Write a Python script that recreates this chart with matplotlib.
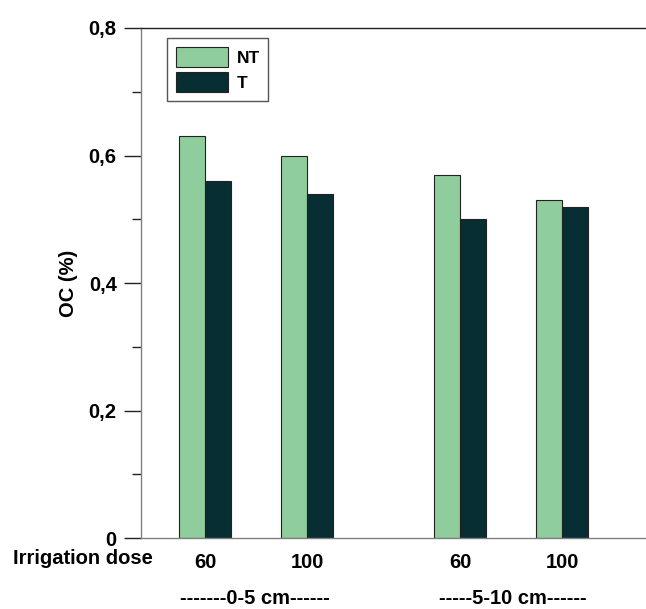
import numpy as np
import matplotlib.pyplot as plt

plt.rcParams['font.family'] = ['Liberation Sans', 'DejaVu Sans']
plt.rcParams['font.weight'] = 'bold'

# datos
doses = ['60', '100', '60', '100']
positions = [1, 2, 3.5, 4.5]
nt = [0.63, 0.60, 0.57, 0.53]
t = [0.56, 0.54, 0.50, 0.52]
depths = ['-------0-5 cm------', '-----5-10 cm------']
yticks = [0, 0.2, 0.4, 0.6, 0.8]
ylabels = ['0', '0,2', '0,4', '0,6', '0,8']

color_nt = '#90CD9C'
color_t = '#062E33'
fs = 14.5

W, H = 646, 609
fig = plt.figure(figsize=(W / 100, H / 100), dpi=100)
ax = fig.add_axes([141 / W, (H - 538) / H, (W - 141) / W, (538 - 28) / H])

width = 0.255
x = np.array(positions)
ax.bar(x - width / 2, nt, width, color=color_nt, edgecolor='#222222', linewidth=0.8, label='NT')
ax.bar(x + width / 2, t, width, color=color_t, edgecolor='#222222', linewidth=0.8, label='T')

ax.set_xlim(0.373, 5.32)
ax.set_ylim(0, 0.8)

ax.set_yticks(yticks)
ax.set_yticklabels(ylabels, fontsize=fs, fontweight='bold')
ax.set_yticks([0.1, 0.3, 0.5, 0.7], minor=True)
ax.tick_params(axis='y', which='major', length=12.5, width=1, color='#222222', pad=5)
ax.tick_params(axis='y', which='minor', length=6.5, width=1, color='#222222')

ax.set_xticks(positions)
ax.set_xticklabels(doses, fontsize=fs, fontweight='bold')
ax.tick_params(axis='x', length=0, pad=11)

ax.spines['right'].set_visible(False)
ax.spines['left'].set_color('#808080')
ax.spines['bottom'].set_color('#808080')
ax.spines['top'].set_color('#222222')
for s in ['left', 'bottom', 'top']:
    ax.spines[s].set_linewidth(1)

ax.set_ylabel('OC (%)', fontsize=fs, fontweight='bold', labelpad=8)

fig.text(83 / W, 1 - 559 / H, 'Irrigation dose', fontsize=fs, fontweight='bold', ha='center', va='center')
fig.text(255 / W, 1 - 589 / H, depths[0], fontsize=fs, fontweight='bold', ha='center', va='top')
fig.text(513 / W, 1 - 589 / H, depths[1], fontsize=fs, fontweight='bold', ha='center', va='top')

leg = ax.legend(loc='upper left', bbox_to_anchor=(167 / W, 1 - 38 / H), bbox_transform=fig.transFigure,
                fancybox=False, edgecolor='#555555', prop={'weight': 'bold', 'size': 12.5},
                handlelength=3.0, handleheight=1.45, labelspacing=0.25, borderpad=0.5,
                handletextpad=0.5, borderaxespad=0, framealpha=1)
leg.get_frame().set_linewidth(1)

fig.savefig('out.png', dpi=100)
